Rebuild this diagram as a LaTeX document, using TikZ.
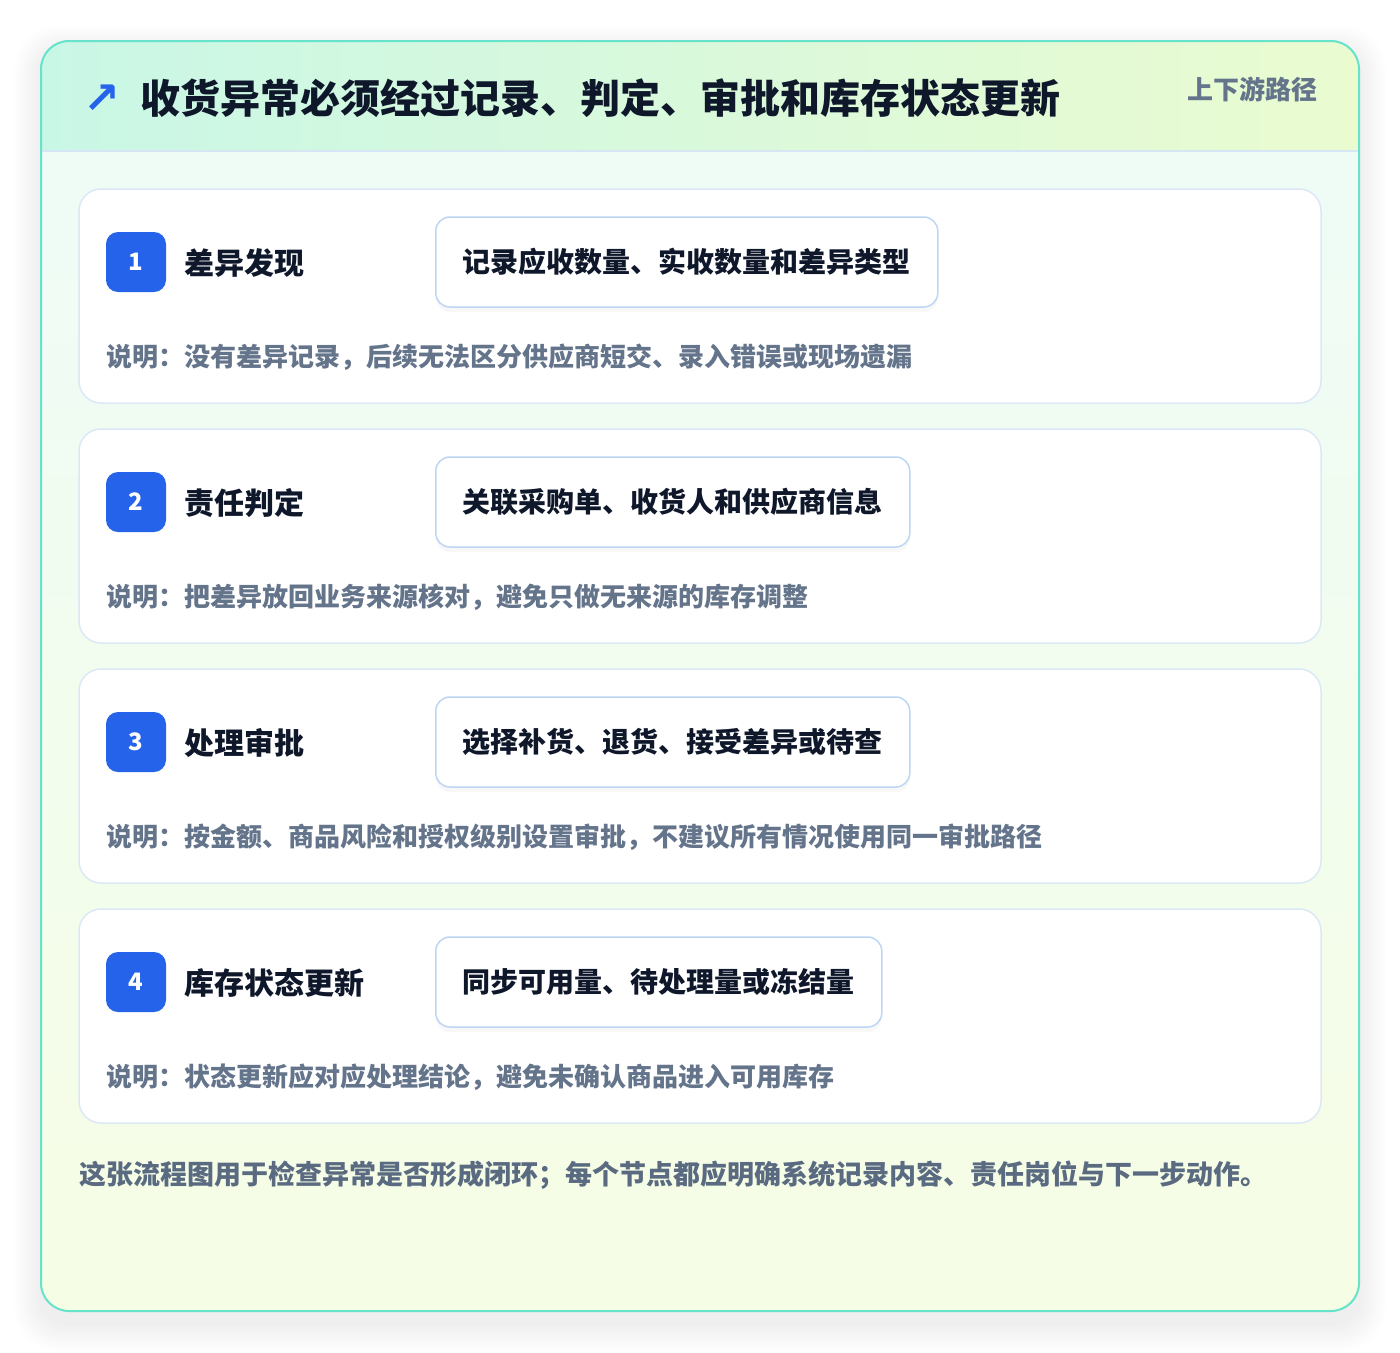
\documentclass[tikz,border=0pt]{standalone}
\usepackage{fontspec}
\setmainfont{Noto Sans CJK SC}
\newfontfamily\symfont{DejaVu Sans}
\usetikzlibrary{shadows}
\definecolor{ink}{HTML}{0F172A}
\definecolor{muted}{HTML}{64748B}
\definecolor{footc}{HTML}{5A6A80}
\definecolor{brand}{HTML}{2563EB}
\definecolor{cardline}{HTML}{DCE8F7}
\definecolor{boxline}{HTML}{BDD6F4}
\definecolor{outerline}{HTML}{67E2CB}
\definecolor{headl}{HTML}{C9F7E6}
\definecolor{headr}{HTML}{EAFBD0}
\definecolor{bodyt}{HTML}{EEFCF8}
\definecolor{bodyb}{HTML}{F6FDE5}
\definecolor{headsep}{HTML}{D6E6F5}
\tikzset{
  card/.style={draw=cardline, line width=1.5pt, fill=white, rounded corners=22pt,
    minimum width=1242pt, minimum height=214pt, inner sep=0pt},
  badge/.style={fill=brand, rounded corners=12pt, minimum size=60pt, inner sep=0pt,
    text=white, font=\fontsize{24}{26}\selectfont\bfseries},
  steptitle/.style={anchor=west, inner sep=0pt, text=ink, font=\fontsize{30}{34}\selectfont\bfseries},
  actbox/.style={anchor=west, draw=boxline, line width=1.5pt, fill=white, rounded corners=14pt,
    minimum height=90pt, inner xsep=27pt, inner ysep=0pt, text=ink,
    font=\fontsize{28}{32}\selectfont\bfseries,
    drop shadow={opacity=0.05, shadow xshift=0pt, shadow yshift=-5pt}},
  note/.style={anchor=west, inner sep=0pt, text=muted, font=\fontsize{26}{30}\selectfont\bfseries},
}
\begin{document}
\begin{tikzpicture}[x=1pt,y=-1pt]
\useasboundingbox (0,0) rectangle (1400,1352);
\fill[white] (0,0) rectangle (1400,1352);
% outer shadow
\foreach \i in {1,...,16}{
  \fill[black, opacity=0.005, rounded corners={28pt+\i pt}] (41-\i*1.7, 50-\i*1.5) rectangle (1359+\i*1.7, 1324+\i*1.7);
}
\begin{scope}
  \clip[rounded corners=28pt] (41,41) rectangle (1359,1311);
  \shade[top color=bodyt, bottom color=bodyb] (41,41) rectangle (1359,1311);
  \shade[left color=headl, right color=headr] (41,41) rectangle (1359,151);
\end{scope}
\draw[headsep, line width=1.5pt] (41,151) -- (1359,151);
\draw[outerline, line width=2pt, rounded corners=28pt] (41,41) rectangle (1359,1311);

% header
\node[text=brand, inner sep=0pt, font=\symfont\bfseries\fontsize{44}{44}\selectfont] (icon) at (102,99) {↗};
\node[anchor=west, inner sep=0pt, text=ink, font=\fontsize{40}{44}\selectfont\bfseries] (title) at (140,98) {收货异常必须经过记录、判定、审批和库存状态更新};
\node[anchor=east, inner sep=0pt, text=muted, font=\fontsize{26}{30}\selectfont\bfseries] (tag) at (1318,89) {上下游路径};

% step 1
\node[card] (c1) at (700,296) {};
\node[badge] (b1) at (136,262) {1};
\node[steptitle] (t1) at (184,263) {差异发现};
\node[actbox] (a1) at (435,262) {记录应收数量、实收数量和差异类型};
\node[note] (n1) at (106,357) {说明：没有差异记录，后续无法区分供应商短交、录入错误或现场遗漏};

% step 2
\node[card] (c2) at (700,536) {};
\node[badge] (b2) at (136,502) {2};
\node[steptitle] (t2) at (184,503) {责任判定};
\node[actbox] (a2) at (435,502) {关联采购单、收货人和供应商信息};
\node[note] (n2) at (106,597) {说明：把差异放回业务来源核对，避免只做无来源的库存调整};

% step 3
\node[card] (c3) at (700,776) {};
\node[badge] (b3) at (136,742) {3};
\node[steptitle] (t3) at (184,743) {处理审批};
\node[actbox] (a3) at (435,742) {选择补货、退货、接受差异或待查};
\node[note] (n3) at (106,837) {说明：按金额、商品风险和授权级别设置审批，不建议所有情况使用同一审批路径};

% step 4
\node[card] (c4) at (700,1016) {};
\node[badge] (b4) at (136,982) {4};
\node[steptitle] (t4) at (184,983) {库存状态更新};
\node[actbox] (a4) at (435,982) {同步可用量、待处理量或冻结量};
\node[note] (n4) at (106,1077) {说明：状态更新应对应处理结论，避免未确认商品进入可用库存};

% footer
\node[anchor=west, inner sep=0pt, text=footc, font=\fontsize{27}{30}\selectfont\bfseries] (foot) at (79,1175) {这张流程图用于检查异常是否形成闭环；每个节点都应明确系统记录内容、责任岗位与下一步动作。};
\end{tikzpicture}
\end{document}
